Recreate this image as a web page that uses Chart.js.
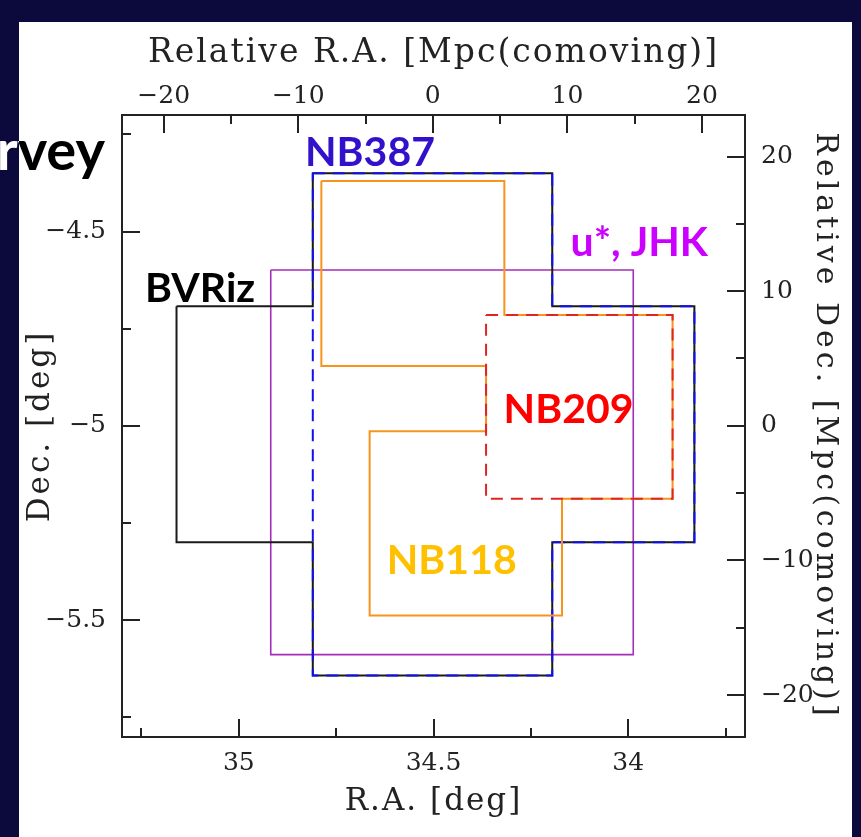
<!DOCTYPE html>
<html>
<head>
<meta charset="utf-8">
<title>Survey fields</title>
<script src="https://cdn.jsdelivr.net/npm/chart.js@4.4.1/dist/chart.umd.min.js"></script>
<style>
	html, body { margin: 0; padding: 0; background: #0c0a3c; }
	#appSurveyChart { display: block; }
</style>
</head>
<body>
<canvas id="appSurveyChart" width="861" height="837"></canvas>
<script>
//========================================================//
// field outlines (vertices in R.A. / Dec., degrees)
//--------------------------------------------------------//
const bvrizRa  = [35.16, 34.81, 34.81, 34.195, 34.195, 33.83, 33.83, 34.195, 34.195, 34.81, 34.81, 35.16, 35.16];
const bvrizDec = [-4.692, -4.692, -4.350, -4.350, -4.692, -4.692, -5.300, -5.300, -5.643, -5.643, -5.300, -5.300, -4.692];

const nb387Ra  = [34.81, 34.195, 34.195, 33.83, 33.83, 34.195, 34.195, 34.81, 34.81];
const nb387Dec = [-4.350, -4.350, -4.692, -4.692, -5.300, -5.300, -5.643, -5.643, -4.350];

const ujhkRa   = [34.918, 33.987, 33.987, 34.918, 34.918];
const ujhkDec  = [-4.599, -4.599, -5.589, -5.589, -4.599];

const nb118Ra  = [34.788, 34.318, 34.318, 33.886, 33.886, 34.170, 34.170, 34.664, 34.664, 34.365, 34.365, 34.788, 34.788];
const nb118Dec = [-4.370, -4.370, -4.715, -4.715, -5.188, -5.188, -5.488, -5.488, -5.014, -5.014, -4.846, -4.846, -4.370];

const nb209Ra  = [34.365, 33.886, 33.886, 34.365, 34.365];
const nb209Dec = [-4.715, -4.715, -5.188, -5.188, -4.715];

// field names and where they sit (R.A. / Dec. of text baseline start)
const fieldLabels = ['NB387', 'u*, JHK', 'BVRiz', 'NB209', 'NB118'];
const labelRa     = [34.830, 34.148, 35.241, 34.320, 34.620];
const labelDec    = [-4.332, -4.563, -4.682, -4.993, -5.381];

// axis ticks
const raMajor  = [35, 34.5, 34];
const raMinor  = [35.25, 34.75, 34.25, 33.75];
const decMajor = [-4.5, -5, -5.5];
const decMinor = [-4.25, -4.75, -5.25, -5.75];
const mpcMajor = [-20, -10, 0, 10, 20];
const mpcMinor = [-15, -5, 5, 15];

//========================================================//
// styles
//--------------------------------------------------------//
const LABEL_COLORS = ['#3311cc', '#cc00ff', '#000000', '#ff0000', '#ffc000'];
const NAVY = '#0c0a3c';
const AXIS = '#222222';
const SERIF = '"DejaVu Serif", serif';
const TITLE_SPACING = {x: '2px', x2: '2px', y: '3px', y2: '4px'};

// zip ra/dec lists into chart points
let _pts = function(ra, dec) {
	return ra.map(function(v, i) { return {x: v, y: dec[i]}; });
};

let _minus = function(v) {
	return String(v).replace('-', '\u2212');
};

let _line = function(ra, dec, color, width, dash) {
	return {
		data: _pts(ra, dec),
		showLine: true,
		fill: false,
		tension: 0,
		pointRadius: 0,
		borderColor: color,
		borderWidth: width,
		borderDash: dash || []
	};
};

// scale box sizes so the frame lands where the figure has it
let _fixWidth  = function(w) { return function(s) { s.width = w; }; };
let _fixHeight = function(h) { return function(s) { s.height = h; }; };
let _setTicks  = function(list) {
	return function(s) { s.ticks = list.map(function(v) { return {value: v}; }); };
};

//========================================================//
// plugin: slide background, inward ticks, labels
//--------------------------------------------------------//
const surveyPlugin = {
	id: 'surveyPlugin',
	beforeDraw: function(chart) {
		let ctx = chart.ctx;
		ctx.save();
		ctx.fillStyle = NAVY;
		ctx.fillRect(0, 0, chart.width, chart.height);
		ctx.fillStyle = '#ffffff';
		ctx.fillRect(19, 22, 833, chart.height - 22);
		ctx.restore();

		// wider spacing for the axis titles
		Object.keys(TITLE_SPACING).forEach(function(id) {
			let s = chart.scales[id];
			if (!s || s._spaced) return;
			let orig = s.drawTitle;
			s.drawTitle = function() {
				let keep = this.ctx.letterSpacing;
				this.ctx.letterSpacing = TITLE_SPACING[id];
				orig.apply(this, arguments);
				this.ctx.letterSpacing = keep;
			};
			s._spaced = true;
		});
	},
	afterDraw: function(chart) {
		let ctx = chart.ctx;
		let a = chart.chartArea;
		let sc = chart.scales;
		ctx.save();
		ctx.strokeStyle = AXIS;
		ctx.lineWidth = 2;

		let tickX = function(scale, values, len) {
			values.forEach(function(v) {
				let px = Math.round(scale.getPixelForValue(v));
				ctx.beginPath();
				if (scale.position === 'bottom') { ctx.moveTo(px, a.bottom); ctx.lineTo(px, a.bottom - len); }
				else { ctx.moveTo(px, a.top); ctx.lineTo(px, a.top + len); }
				ctx.stroke();
			});
		};
		let tickY = function(scale, values, len) {
			values.forEach(function(v) {
				let py = Math.round(scale.getPixelForValue(v));
				ctx.beginPath();
				if (scale.position === 'left') { ctx.moveTo(a.left, py); ctx.lineTo(a.left + len, py); }
				else { ctx.moveTo(a.right, py); ctx.lineTo(a.right - len, py); }
				ctx.stroke();
			});
		};
		tickX(sc.x, raMajor, 18);  tickX(sc.x, raMinor, 9);
		tickX(sc.x2, mpcMajor, 18); tickX(sc.x2, mpcMinor, 9);
		tickY(sc.y, decMajor, 18); tickY(sc.y, decMinor, 9);
		tickY(sc.y2, mpcMajor, 18); tickY(sc.y2, mpcMinor, 9);

		// field names
		ctx.font = 'bold 41px Lato, "Open Sans", sans-serif';
		ctx.textAlign = 'left';
		ctx.textBaseline = 'alphabetic';
		fieldLabels.forEach(function(t, i) {
			ctx.fillStyle = LABEL_COLORS[i];
			ctx.fillText(t, sc.x.getPixelForValue(labelRa[i]), sc.y.getPixelForValue(labelDec[i]));
		});

		// slide title cut by the figure: white over navy, black over white
		ctx.font = 'bold 56px Lato, "Open Sans", sans-serif';
		ctx.textAlign = 'right';
		ctx.save();
		ctx.beginPath(); ctx.rect(0, 0, 19, chart.height); ctx.clip();
		ctx.fillStyle = '#ffffff';
		ctx.fillText('rvey', 105, 170);
		ctx.restore();
		ctx.save();
		ctx.beginPath(); ctx.rect(19, 0, chart.width, chart.height); ctx.clip();
		ctx.fillStyle = '#000000';
		ctx.fillText('rvey', 105, 170);
		ctx.restore();

		ctx.restore();
	}
};

//========================================================//
// chart
//--------------------------------------------------------//
let _tickFont = {family: SERIF, size: 25};
let _border = {display: true, color: AXIS, width: 2};
let _grid = {display: false, drawTicks: false};

new Chart(document.getElementById('appSurveyChart'), {
	type: 'scatter',
	data: {
		datasets: [
			_line(nb209Ra, nb209Dec, '#e02424', 2, [12, 8]),
			_line(nb118Ra, nb118Dec, '#f7941d', 2),
			_line(nb387Ra, nb387Dec, '#1010ee', 2, [12, 8]),
			_line(bvrizRa, bvrizDec, '#1a1a1a', 2),
			_line(ujhkRa, ujhkDec, '#a52fb8', 1.6)
		]
	},
	options: {
		responsive: false,
		animation: false,
		devicePixelRatio: 1,
		layout: { padding: 0 },
		plugins: {
			legend: { display: false },
			tooltip: { enabled: false }
		},
		scales: {
			x: {
				type: 'linear', position: 'bottom', reverse: true,
				min: 33.7, max: 35.3,
				grid: _grid, border: _border,
				afterBuildTicks: _setTicks(raMajor),
				afterFit: _fixHeight(100),
				ticks: { font: _tickFont, color: AXIS, padding: 11, maxRotation: 0,
					callback: function(v) { return String(v); } },
				title: { display: true, text: 'R.A. [deg]', color: AXIS,
					font: {family: SERIF, size: 31}, padding: {top: 0, bottom: 16} }
			},
			x2: {
				type: 'linear', position: 'top',
				min: -23.1, max: 23.2,
				grid: _grid, border: _border,
				afterBuildTicks: _setTicks(mpcMajor),
				afterFit: _fixHeight(115),
				ticks: { font: _tickFont, color: AXIS, padding: 4, maxRotation: 0, callback: _minus },
				title: { display: true, text: 'Relative R.A. [Mpc(comoving)]', color: AXIS,
					font: {family: SERIF, size: 33}, padding: {top: 34, bottom: 0} }
			},
			y: {
				type: 'linear', position: 'left',
				min: -5.801, max: -4.2,
				grid: _grid, border: _border,
				afterBuildTicks: _setTicks(decMajor),
				afterFit: _fixWidth(122),
				ticks: { font: _tickFont, color: AXIS, padding: 16, callback: _minus },
				title: { display: true, text: 'Dec. [deg]', color: AXIS,
					font: {family: SERIF, size: 31}, padding: {top: 22, bottom: 0} }
			},
			y2: {
				type: 'linear', position: 'right',
				min: -23.12, max: 23.09,
				grid: _grid, border: _border,
				afterBuildTicks: _setTicks(mpcMajor),
				afterFit: _fixWidth(116),
				ticks: { font: _tickFont, color: AXIS, padding: 16, callback: _minus },
				title: { display: true, text: 'Relative Dec. [Mpc(comoving)]', color: AXIS,
					font: {family: SERIF, size: 30}, padding: {top: 18, bottom: 0} }
			}
		}
	},
	plugins: [surveyPlugin]
});
</script>
</body>
</html>
